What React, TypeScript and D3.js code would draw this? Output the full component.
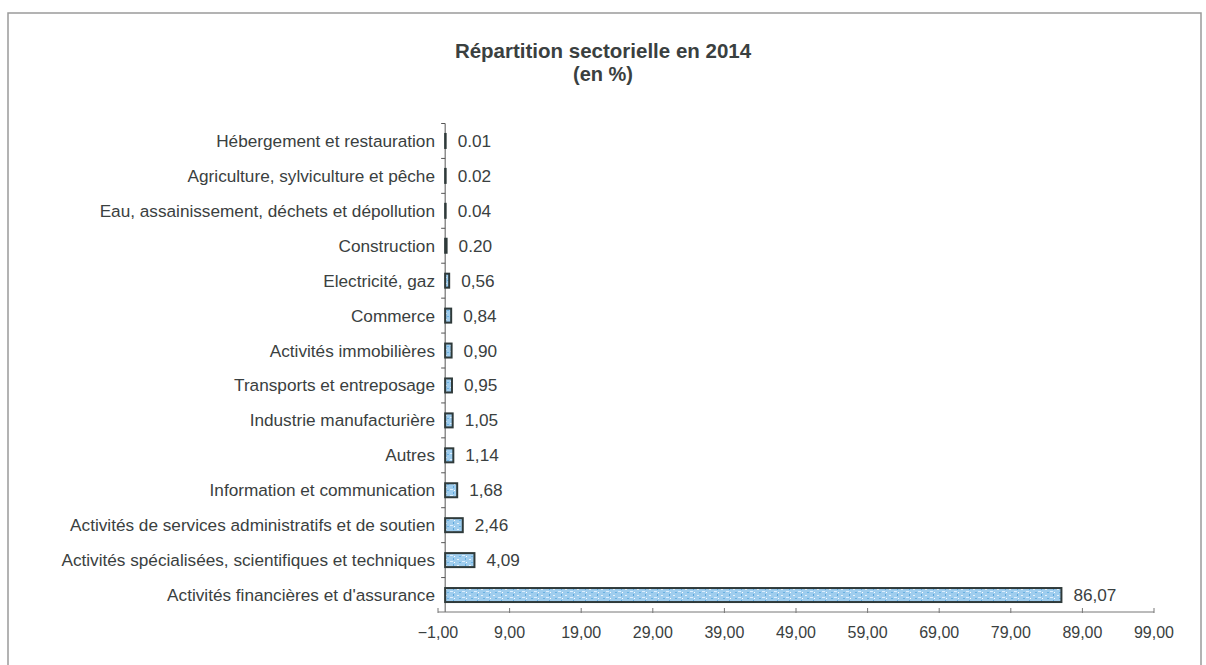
import React from "react";
import * as d3 from "d3";

const categories = [
  "Hébergement et restauration",
  "Agriculture, sylviculture et pêche",
  "Eau, assainissement, déchets et dépollution",
  "Construction",
  "Electricité, gaz",
  "Commerce",
  "Activités immobilières",
  "Transports et entreposage",
  "Industrie manufacturière",
  "Autres",
  "Information et communication",
  "Activités de services administratifs et de soutien",
  "Activités spécialisées, scientifiques et techniques",
  "Activités financières et d'assurance",
];
const values = [0.01, 0.02, 0.04, 0.2, 0.56, 0.84, 0.9, 0.95, 1.05, 1.14, 1.68, 2.46, 4.09, 86.07];
const valueLabels = ["0.01", "0.02", "0.04", "0.20", "0,56", "0,84", "0,90", "0,95", "1,05", "1,14", "1,68", "2,46", "4,09", "86,07"];
const xTicks = [-1, 9, 19, 29, 39, 49, 59, 69, 79, 89, 99];
const title = ["Répartition sectorielle en 2014", "(en %)"];

const W = 1206;
const H = 665;
const font = "'Liberation Sans', Arial, sans-serif";
const textColor = "#3a4040";

export default function App() {
  const x = d3.scaleLinear().domain([-1, 99]).range([438, 1154]);
  const band = d3.scaleBand<string>().domain(categories).range([123.5, 612.5]);
  const x0 = x(0);
  const axisY = 612;
  const fmt = (v: number) => d3.format(".2f")(v).replace(".", ",");

  return (
    <svg width={W} height={H} style={{ position: "absolute", left: 0, top: 0, background: "#fff" }}>
      <defs>
        <pattern id="speckle" width="12" height="6" patternUnits="userSpaceOnUse">
          <rect width="12" height="6" fill="#9fcdee" />
          <rect x="1" y="1" width="2" height="1" fill="#e8f4fc" />
          <rect x="6" y="3" width="3" height="1" fill="#dcefff" />
          <rect x="9" y="0" width="1" height="2" fill="#5fa8dc" />
          <rect x="3" y="4" width="2" height="1" fill="#6cb2e2" />
          <rect x="10" y="4" width="1" height="1" fill="#ffffff" />
        </pattern>
      </defs>
      <rect x={8} y={13} width={1193} height={H} fill="#fff" stroke="#9a9a9a" strokeWidth={1.5} />
      <text x={603} y={58} textAnchor="middle" fontFamily={font} fontSize={20.5} fontWeight="bold" fill={textColor}>
        {title[0]}
      </text>
      <text x={603} y={81} textAnchor="middle" fontFamily={font} fontSize={20} fontWeight="bold" fill={textColor}>
        {title[1]}
      </text>

      {/* vertical axis */}
      <line x1={x0} x2={x0} y1={123.5} y2={axisY} stroke="#555" strokeWidth={1} />
      {categories.map((c, i) => (
        <line key={"yt" + i} x1={x0 - 4} x2={x0} y1={band(c) as number} y2={band(c) as number} stroke="#555" />
      ))}

      {/* horizontal axis */}
      <line x1={x(-1)} x2={x(99)} y1={axisY} y2={axisY} stroke="#777" strokeWidth={1} />
      {xTicks.map((t) => (
        <g key={"xt" + t}>
          <line x1={x(t)} x2={x(t)} y1={axisY - 4} y2={axisY + 1} stroke="#777" />
          <text x={x(t)} y={axisY + 26} textAnchor="middle" fontFamily={font} fontSize={16} fill={textColor}>
            {fmt(t)}
          </text>
        </g>
      ))}

      {/* bars and labels */}
      {categories.map((c, i) => {
        const yc = (band(c) as number) + band.bandwidth() / 2;
        const bw = Math.max(x(values[i]) - x0, 0.5);
        const bh = 14;
        return (
          <g key={"b" + i}>
            <text x={435} y={yc + 6} textAnchor="end" fontFamily={font} fontSize={17.2} fill={textColor}>
              {c}
            </text>
            <rect x={x0} y={yc - bh / 2} width={bw} height={bh} fill="url(#speckle)" stroke="#2f3a3a" strokeWidth={2} />
            <text x={x0 + bw + 12} y={yc + 6} fontFamily={font} fontSize={17.2} fill={textColor}>
              {valueLabels[i]}
            </text>
          </g>
        );
      })}
    </svg>
  );
}
